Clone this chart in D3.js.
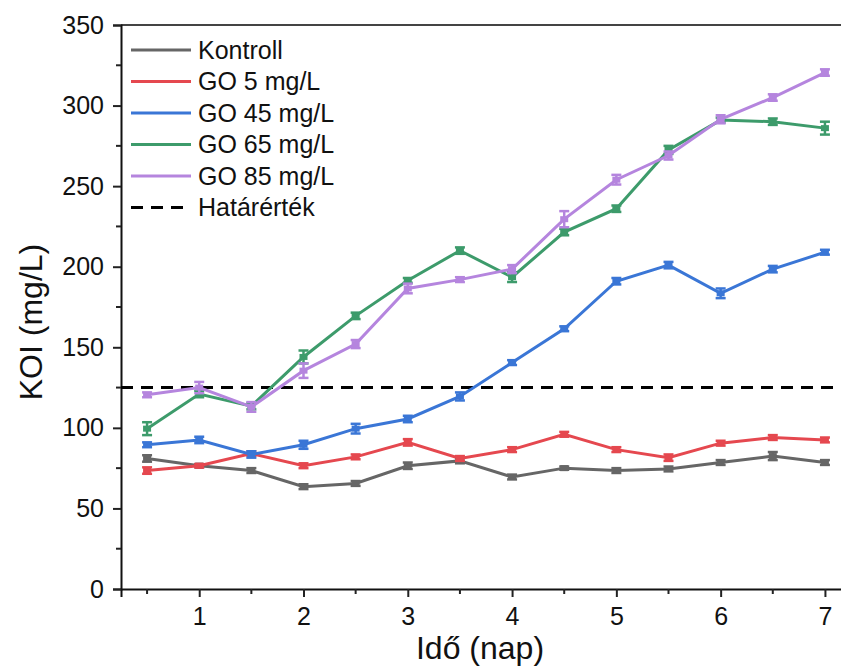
<!DOCTYPE html>
<html>
<head>
<meta charset="utf-8">
<script src="https://cdn.jsdelivr.net/npm/d3@7"></script>
<style>
  html, body { margin: 0; padding: 0; background: #fff; }
  svg { display: block; font-family: "Liberation Sans", Arial, sans-serif; }
</style>
</head>
<body>
<svg id="chart" width="841" height="668"></svg>
<script>
// ---- data ----
const days = [0.5, 1, 1.5, 2, 2.5, 3, 3.5, 4, 4.5, 5, 5.5, 6, 6.5, 7];
const seriesNames = ["Kontroll", "GO 5 mg/L", "GO 45 mg/L", "GO 65 mg/L", "GO 85 mg/L"];
const seriesColors = ["#666666", "#e5484f", "#3a76d6", "#3d9b6b", "#b585de"];
const kontroll = [81, 76.5, 73.5, 63.5, 65.5, 76.5, 79.5, 69.5, 75, 73.5, 74.5, 78.5, 82.5, 78.5];
const go5 = [73.5, 76.5, 84, 76.5, 82, 91, 81, 86.5, 96, 86.5, 81.5, 90.5, 94, 92.5];
const go45 = [89.5, 92.5, 83.5, 89.5, 99.5, 105.5, 119.5, 140.5, 161.5, 191, 201, 183.5, 198.5, 209];
const go65 = [99.5, 121, 113.5, 144, 169.5, 191.5, 210, 193.5, 221.5, 236, 272.5, 291, 290, 286];
const go85 = [120.5, 125, 113, 135.5, 152, 186.5, 192, 198.5, 229.5, 254, 269, 291.5, 305, 320.5];
const errKontroll = [2, 1, 1.5, 1.5, 1.5, 2, 1.5, 1.5, 1, 1.5, 1.5, 1.5, 2.5, 1.5];
const errGo5 = [2, 1, 1.5, 1.5, 1.5, 2, 1.5, 1.5, 1.5, 1.5, 2, 1.5, 1.5, 1.5];
const errGo45 = [1.5, 2, 2, 2.5, 3, 2, 2.5, 1.5, 1.5, 2, 2, 3, 2, 1.5];
const errGo65 = [4, 2, 2, 4, 2, 1.5, 2, 3, 2, 2, 2.5, 1.5, 2, 4];
const errGo85 = [1.5, 3.5, 3, 4.5, 2.5, 3, 1.5, 2.5, 5, 3, 2.5, 2.5, 2, 2];
const limitValue = 125;
const limitLabel = "Határérték";
const xTicks = [1, 2, 3, 4, 5, 6, 7];
const yTicks = [0, 50, 100, 150, 200, 250, 300, 350];
const xLabel = "Idő (nap)";
const yLabel = "KOI (mg/L)";

const values = [kontroll, go5, go45, go65, go85];
const errors = [errKontroll, errGo5, errGo45, errGo65, errGo85];

// ---- layout ----
const svg = d3.select("#chart");
const plotLeft = 121, plotTop = 25, plotBottom = 589, plotRight = 851;
const x = d3.scaleLinear().domain([0.25, 7.25]).range([plotLeft, plotRight]);
const y = d3.scaleLinear().domain([0, 350]).range([plotBottom, plotTop]);

// frame top line
svg.append("line").attr("x1", plotLeft).attr("x2", 841).attr("y1", y(350)).attr("y2", y(350))
  .attr("stroke", "#444").attr("stroke-width", 2);

// x axis
const xAxis = svg.append("g").attr("transform", `translate(0,${plotBottom})`)
  .call(d3.axisBottom(x).tickValues(xTicks).tickFormat(d3.format("d")).tickSizeOuter(0).tickSize(8).tickPadding(10));
xAxis.selectAll(".tick text").attr("font-size", 25).attr("fill", "#111");
xAxis.append("g").selectAll("line").data(d3.range(0.5, 7.01, 1)).join("line")
  .attr("x1", d => x(d)).attr("x2", d => x(d)).attr("y1", 0).attr("y2", 5)
  .attr("stroke", "#222").attr("stroke-width", 2);

// y axis
const yAxis = svg.append("g").attr("transform", `translate(${plotLeft},0)`)
  .call(d3.axisLeft(y).tickValues(yTicks).tickSizeOuter(0).tickSize(8).tickPadding(9));
yAxis.selectAll(".tick text").attr("font-size", 25).attr("fill", "#111");
yAxis.append("g").selectAll("line").data(d3.range(25, 350, 50)).join("line")
  .attr("x1", 0).attr("x2", -5).attr("y1", d => y(d)).attr("y2", d => y(d))
  .attr("stroke", "#222").attr("stroke-width", 2);
[xAxis, yAxis].forEach(a => {
  a.select(".domain").attr("stroke", "#111").attr("stroke-width", 2);
  a.selectAll(".tick line").attr("stroke", "#222").attr("stroke-width", 2);
});

// axis titles
svg.append("text").attr("x", 480).attr("y", 659).attr("text-anchor", "middle")
  .attr("font-size", 32).attr("fill", "#111").text(xLabel);
svg.append("text").attr("transform", `translate(42,322) rotate(-90)`)
  .attr("text-anchor", "middle").attr("font-size", 32).attr("fill", "#111").text(yLabel);

// limit line
svg.append("line").attr("x1", plotLeft).attr("x2", 841).attr("y1", y(limitValue)).attr("y2", y(limitValue))
  .attr("stroke", "#000").attr("stroke-width", 3).attr("stroke-dasharray", "12,8");

// series
const line = d3.line().x((d, i) => x(days[i])).y(d => y(d));
values.forEach((vals, s) => {
  const g = svg.append("g");
  const c = seriesColors[s];
  g.append("path").datum(vals).attr("d", line).attr("fill", "none")
    .attr("stroke", c).attr("stroke-width", 3);
  vals.forEach((v, i) => {
    const e = errors[s][i];
    const cx = x(days[i]);
    g.append("line").attr("x1", cx).attr("x2", cx).attr("y1", y(v - e)).attr("y2", y(v + e))
      .attr("stroke", c).attr("stroke-width", 2.5);
    [v - e, v + e].forEach(w => g.append("line").attr("x1", cx - 5).attr("x2", cx + 5)
      .attr("y1", y(w)).attr("y2", y(w)).attr("stroke", c).attr("stroke-width", 2.5));
    g.append("rect").attr("x", cx - 4).attr("y", y(v) - 3).attr("width", 8).attr("height", 6).attr("fill", c);
  });
});

// legend
const legendItems = seriesNames.map((n, i) => ({ name: n, color: seriesColors[i], dash: null }))
  .concat([{ name: limitLabel, color: "#000", dash: "12,8" }]);
const lg = svg.append("g");
legendItems.forEach((it, i) => {
  const yy = 50 + i * 31.5;
  lg.append("line").attr("x1", 131).attr("x2", 191).attr("y1", yy).attr("y2", yy)
    .attr("stroke", it.color).attr("stroke-width", 3).attr("stroke-dasharray", it.dash);
  lg.append("text").attr("x", 198).attr("y", yy).attr("dy", "0.35em")
    .attr("font-size", 25).attr("fill", "#111").text(it.name);
});
</script>
</body>
</html>
